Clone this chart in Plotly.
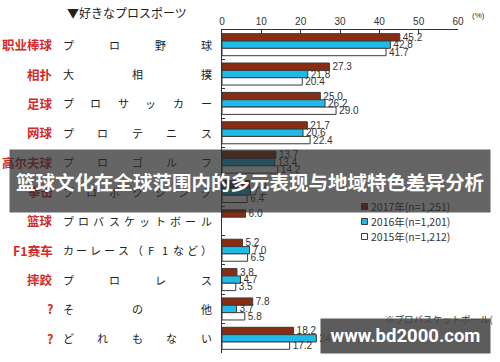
import plotly.graph_objects as go

# ---------------- data ----------------
labels_zh = ["职业棒球", "相扑", "足球", "网球", "高尔夫球", "拳击", "篮球", "F1赛车", "摔跤", "?", "?"]
labels_ja = ["プロ野球", "大相撲", "プロサッカー", "プロテニス", "プロゴルフ", "プロボクシング",
             "プロバスケットボール", "カーレース（F1など）", "プロレス", "その他", "どれもない"]
v2017 = [45.2, 27.3, 25.0, 21.7, 13.7, 7.0, 6.0, 5.2, 3.8, 7.8, 18.2]
v2016 = [42.8, 21.8, 26.2, 20.6, 13.4, 7.2, None, 7.0, 4.7, 3.7, 24.0]
v2015 = [41.7, 20.4, 29.0, 22.4, 14.2, 6.4, None, 6.5, 3.5, 5.8, 17.2]
series_names = ["2017年(n=1,251)", "2016年(n=1,201)", "2015年(n=1,212)"]
x_ticks = [0, 10, 20, 30, 40, 50, 60]

# ---------------- layout constants ----------------
W, H = 500, 362
L, R, T, B = 222, 42, 30, 9
PW = W - L - R
PH = H - T - B


def px_x(px):
    return (px - L) / PW


def px_y(py):
    return (T + PH - py) / PH


C2017 = "#8a2c12"
C2016 = "#1fbbe8"
C2015 = "#ffffff"
EDGE = "#3a3a3a"

fig = go.Figure()
for name, vals, col in zip(series_names, [v2017, v2016, v2015], [C2017, C2016, C2015]):
    fig.add_trace(go.Bar(
        y=labels_ja, x=vals, orientation="h", name=name,
        marker=dict(color=col, line=dict(color=EDGE, width=1)),
        text=[None if v is None else f"{v:.1f}" for v in vals],
        textposition="outside", constraintext="none", cliponaxis=False,
        textfont=dict(size=10, color="#333", family="Liberation Sans"),
        showlegend=False,
    ))

ann = []
# title
ann.append(dict(text="▼好きなプロスポーツ", x=px_x(65), y=px_y(12.5), xref="paper", yref="paper",
                xanchor="left", yanchor="middle", showarrow=False,
                font=dict(size=12, color="#222", family="Noto Sans CJK JP")))
ann.append(dict(text="(%)", x=px_x(470), y=px_y(16), xref="paper", yref="paper",
                xanchor="left", yanchor="middle", showarrow=False,
                font=dict(size=8, color="#333", family="Liberation Sans")))

# category labels
for zh, ja in zip(labels_zh, labels_ja):
    ann.append(dict(text=zh, x=px_x(55), y=ja, xref="paper", yref="y",
                    xanchor="right", yanchor="middle", showarrow=False,
                    font=dict(size=12.5, color="#d42a2a", family="Noto Sans CJK SC", weight="bold")))
    n = len(ja)
    for i, ch in enumerate(ja):
        cx = 68 + i * (206 - 68) / (n - 1)
        ann.append(dict(text=ch, x=px_x(cx), y=ja, xref="paper", yref="y",
                        xanchor="center", yanchor="middle", showarrow=False,
                        font=dict(size=11, color="#222", family="Noto Sans CJK JP")))

# legend (text)
shapes = []
leg_fill = [C2017, C2016, C2015]
for k, name in enumerate(series_names):
    yc = 206.5 + 15 * k
    shapes.append(dict(type="rect", xref="paper", yref="paper",
                       x0=px_x(361.5), x1=px_x(367.5), y0=px_y(yc + 3), y1=px_y(yc - 3),
                       fillcolor=leg_fill[k], line=dict(color=EDGE, width=1), layer="below"))
    ann.append(dict(text=name, x=px_x(369), y=px_y(yc), xref="paper", yref="paper",
                    xanchor="left", yanchor="middle", showarrow=False,
                    font=dict(size=10.5, color="#333", family="Noto Sans CJK JP")))

ann.append(dict(text="※プロバスケットボール(", x=px_x(383), y=px_y(319), xref="paper", yref="paper",
                xanchor="left", yanchor="middle", showarrow=False,
                font=dict(size=9.5, color="#333", family="Noto Sans CJK JP")))

# overlay band with headline
ann.append(dict(text="篮球文化在全球范围内的多元表现与地域特色差异分析",
                x=px_x(250), y=px_y(181), xref="paper", yref="paper",
                xanchor="center", yanchor="middle", showarrow=False,
                width=478, height=60, bgcolor="rgba(42,42,42,0.72)", borderpad=1,
                font=dict(size=19.5, color="white", family="Noto Sans CJK SC", weight="bold")))
# watermark box
ann.append(dict(text="www.bd2000.com",
                x=px_x(405.5), y=px_y(336), xref="paper", yref="paper",
                xanchor="center", yanchor="middle", showarrow=False,
                width=167, height=32, bgcolor="rgba(70,70,70,0.88)", borderpad=1,
                font=dict(size=18.5, color="white", family="Roboto", weight="bold")))

fig.update_layout(
    width=W, height=H,
    margin=dict(l=L, r=R, t=T, b=B, autoexpand=False),
    paper_bgcolor="white", plot_bgcolor="white",
    barmode="group", bargap=0.25, bargroupgap=0,
    annotations=ann, shapes=shapes,
    xaxis=dict(side="top", range=[0, 60], tickvals=x_ticks, showgrid=False, zeroline=False,
               automargin=False,
               showline=True, linecolor="#333", linewidth=1, ticks="inside", ticklen=4,
               tickcolor="#333", tickfont=dict(size=10, color="#333", family="Liberation Sans")),
    yaxis=dict(type="category", autorange="reversed", showticklabels=False, showgrid=False,
               automargin=False,
               showline=True, linecolor="#333", linewidth=1, ticks="inside", ticklen=3,
               tickson="boundaries", tickcolor="#333", zeroline=False),
)

fig.write_html("out.html", config={"displayModeBar": False},
               post_script="document.body.style.margin='0';document.body.style.overflow='hidden';")
